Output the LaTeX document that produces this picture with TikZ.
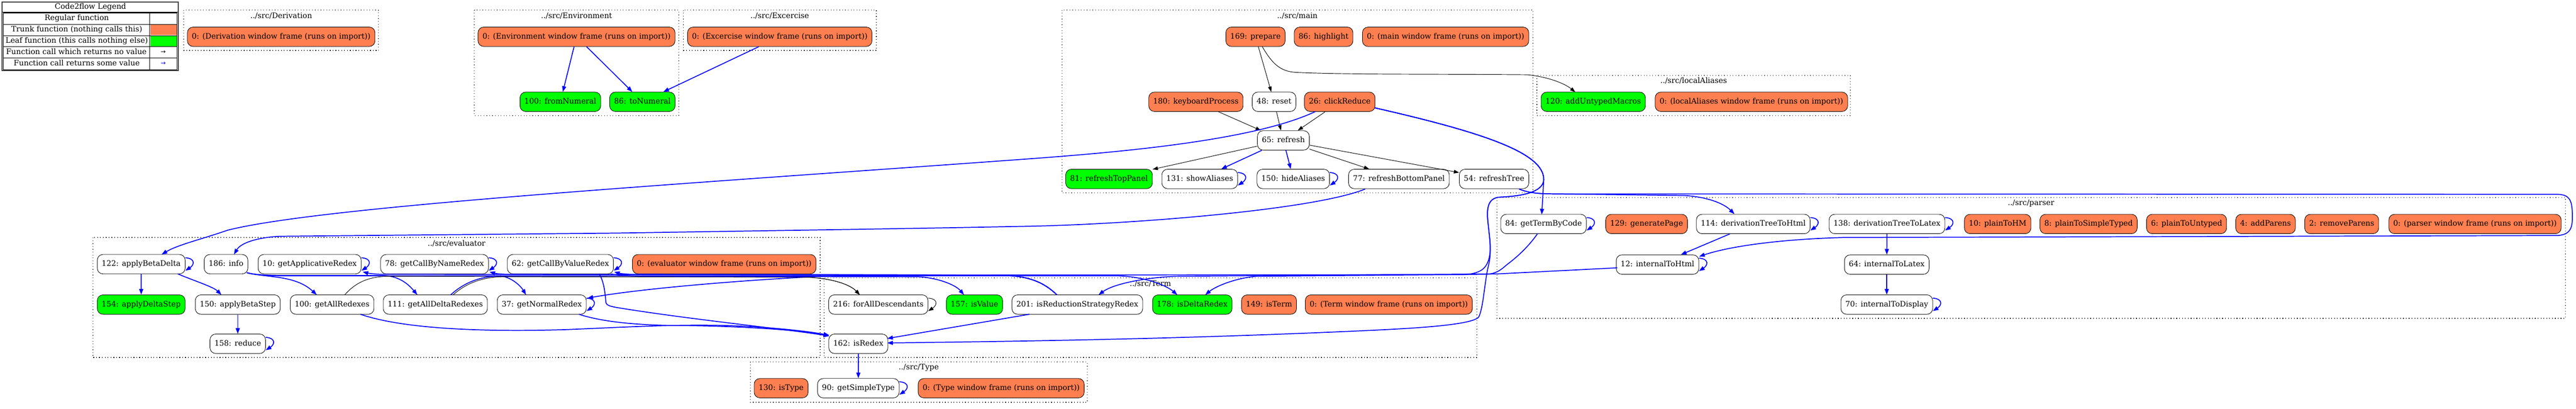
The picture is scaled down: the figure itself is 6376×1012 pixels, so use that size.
\documentclass[tikz,border=0pt]{standalone}
\usepackage{fontspec}
\setmainfont{DejaVu Serif}
\newfontfamily\arrowfamily{DejaVu Sans}
\usetikzlibrary{arrows.meta,calc}
\definecolor{trunk}{HTML}{FF7F50}
\definecolor{leaf}{HTML}{00FF00}
\newcommand{\nf}{\fontsize{18.67}{22}\selectfont}
\newcommand{\myloop}[2][bedge]{\draw[#1] ($(#2.east)+(0,-16)$) .. controls +(26,2) and +(22,-14) .. ($(#2.east)+(0,16)$);}
\begin{document}
\begin{tikzpicture}[x=1pt,y=-1pt,
 fn/.style={draw=black, line width=1.1pt, rounded corners=14pt, minimum height=48pt, inner xsep=11pt, inner ysep=0pt, font=\nf, text height=14pt, text depth=4pt, fill=white},
 trunkfn/.style={fn, fill=trunk},
 leaffn/.style={fn, fill=leaf},
 cluster/.style={draw=black, line width=1.6pt, dash pattern=on 1.6pt off 5.5pt},
 clabel/.style={font=\nf, inner sep=0pt, text height=14pt, text depth=4pt},
 bedge/.style={draw=blue, line width=2.2pt, -{Triangle[length=14pt,width=10pt]}},
 kedge/.style={draw=black, line width=1.2pt, -{Triangle[length=13pt,width=9pt]}},
 legtext/.style={font=\nf, inner sep=0pt, text height=13.5pt, text depth=4pt}
]
\fill[white] (0,0) rectangle (6376,1012);
\useasboundingbox (0,0) rectangle (6376,1012);

% ---------- clusters ----------
\draw[cluster] (455,25) rectangle (937,125);
\draw[cluster] (1174,25) rectangle (1680,286);
\draw[cluster] (1692,25) rectangle (2169,125);
\draw[cluster] (2629,25) rectangle (3794,478);
\draw[cluster] (3804,187) rectangle (4580,286);
\draw[cluster] (3705,489) rectangle (6350,788);
\draw[cluster] (230,588) rectangle (2030,885);
\draw[cluster] (2040,688) rectangle (3655,885);
\draw[cluster] (1857,896) rectangle (2691,996);

\node[clabel] (lblDer) at (696,40) {../src/Derivation};
\node[clabel] (lblEnv) at (1427,40) {../src/Environment};
\node[clabel] (lblExc) at (1930,40) {../src/Excercise};
\node[clabel] (lblMain) at (3211,40) {../src/main};
\node[clabel] (lblLA) at (4192,201) {../src/localAliases};
\node[clabel] (lblParser) at (5027,503) {../src/parser};
\node[clabel] (lblEval) at (1130,604) {../src/evaluator};
\node[clabel] (lblTerm) at (2847.5,704) {../src/Term};
\node[clabel] (lblType) at (2274,910) {../src/Type};

% ---------- legend ----------
\fill[trunk] (372,61) rectangle (438,87);
\fill[leaf] (372,89) rectangle (438,115);
\draw[line width=2.2pt, black!75] (5,5) rectangle (441,175);
\draw[line width=2.4pt] (5,30) -- (441,30);
\draw[line width=1.6pt] (8,32) rectangle (438.5,172.5);
\foreach \yy in {60,88,116,144} \draw[line width=1.3pt] (8,\yy) -- (438.5,\yy);
\draw[line width=1.3pt] (371,32) -- (371,172.5);
\node[legtext] (lgtitle) at (224,17) {Code2flow Legend};
\node[legtext] (lg1) at (190,46) {Regular function};
\node[legtext] (lg2) at (190,74) {Trunk function (nothing calls this)};
\node[legtext] (lg3) at (190,102) {Leaf function (this calls nothing else)};
\node[legtext] (lg4) at (189,130) {Function call which returns no value};
\node[legtext] (lg5) at (190,158) {Function call returns some value};
\node[font=\arrowfamily\fontsize{15}{18}\selectfont, inner sep=0pt] (lgar1) at (404,129) {→};
\node[font=\arrowfamily\fontsize{15}{18}\selectfont, inner sep=0pt, text=blue] (lgar2) at (404,157) {→};

% ---------- nodes ----------
\node[trunkfn] (der) at (696,91) {0: (Derivation window frame (runs on import))};
\node[trunkfn] (envf) at (1427,91) {0: (Environment window frame (runs on import))};
\node[trunkfn] (excf) at (1930,91) {0: (Excercise window frame (runs on import))};
\node[trunkfn] (prep) at (3107.5,91) {169: prepare};
\node[trunkfn] (hl) at (3276,91) {86: highlight};
\node[trunkfn] (mainf) at (3578,91) {0: (main window frame (runs on import))};
\node[leaffn] (fromN) at (1387,252) {100: fromNumeral};
\node[leaffn] (toN) at (1590,252) {86: toNumeral};
\node[trunkfn] (kbd) at (2960,252) {180: keyboardProcess};
\node[fn] (reset) at (3153.5,252) {48: reset};
\node[trunkfn] (click) at (3316,252) {26: clickReduce};
\node[leaffn] (addU) at (3943.5,252) {120: addUntypedMacros};
\node[trunkfn] (laf) at (4335,252) {0: (localAliases window frame (runs on import))};
\node[fn] (refresh) at (3176.5,347.5) {65: refresh};
\node[leaffn] (rtp) at (2745,443) {81: refreshTopPanel};
\node[fn] (show) at (2969.5,443) {131: showAliases};
\node[fn] (hide) at (3201,443) {150: hideAliases};
\node[fn] (rbp) at (3462.5,443) {77: refreshBottomPanel};
\node[fn] (rtree) at (3698,443) {54: refreshTree};
\node[fn] (gtbc) at (3820.5,554.5) {84: getTermByCode};
\node[trunkfn] (genp) at (4075.5,554.5) {129: generatePage};
\node[fn] (dth) at (4339.5,554.5) {114: derivationTreeToHtml};
\node[fn] (dtl) at (4670.5,554.5) {138: derivationTreeToLatex};
\node[trunkfn] (p2hm) at (4944.5,554.5) {10: plainToHM};
\node[trunkfn] (p2st) at (5169.5,554.5) {8: plainToSimpleTyped};
\node[trunkfn] (p2u) at (5412,554.5) {6: plainToUntyped};
\node[trunkfn] (addp) at (5607.5,554.5) {4: addParens};
\node[trunkfn] (remp) at (5796,554.5) {2: removeParens};
\node[trunkfn] (parf) at (6126,554.5) {0: (parser window frame (runs on import))};
\node[fn] (i2h) at (4102.5,655) {12: internalToHtml};
\node[fn] (i2l) at (4670,655) {64: internalToLatex};
\node[fn] (i2d) at (4670,754) {70: internalToDisplay};
\node[fn] (abd) at (349.5,654) {122: applyBetaDelta};
\node[fn] (info) at (559.5,654) {186: info};
\node[fn] (gar) at (766.5,654) {10: getApplicativeRedex};
\node[fn] (gcn) at (1075.5,654) {78: getCallByNameRedex};
\node[fn] (gcv) at (1387,654) {62: getCallByValueRedex};
\node[trunkfn] (evf) at (1792.5,654) {0: (evaluator window frame (runs on import))};
\node[leaffn] (ads) at (349.5,754) {154: applyDeltaStep};
\node[fn] (abs) at (588.5,754) {150: applyBetaStep};
\node[fn] (gall) at (822,754) {100: getAllRedexes};
\node[fn] (gadr) at (1077.5,754) {111: getAllDeltaRedexes};
\node[fn] (gnr) at (1341,754) {37: getNormalRedex};
\node[fn] (reduce) at (588.5,851) {158: reduce};
\node[fn] (fad) at (2174,754) {216: forAllDescendants};
\node[leaffn] (isv) at (2412,754) {157: isValue};
\node[fn] (isrs) at (2666.5,754) {201: isReductionStrategyRedex};
\node[leaffn] (isdr) at (2951,754) {178: isDeltaRedex};
\node[trunkfn] (ist) at (3141,754) {149: isTerm};
\node[trunkfn] (termf) at (3437.5,754) {0: (Term window frame (runs on import))};
\node[fn] (isr) at (2124.5,851) {162: isRedex};
\node[trunkfn] (istype) at (1933.5,961) {130: isType};
\node[fn] (gst) at (2124.5,961) {90: getSimpleType};
\node[trunkfn] (typef) at (2478,961) {0: (Type window frame (runs on import))};

% ---------- edges: top ----------
\draw[bedge] (envf) -- (fromN);
\draw[bedge] (envf) -- (toN);
\draw[bedge] (excf) -- (toN);

% ---------- edges: main ----------
\draw[kedge] (prep) -- (reset);
\draw[kedge] ($(prep)+(16.5,24)$) .. controls (3150,160) and (3170,176) .. (3205,179) .. controls (3320,185) and (3550,183) .. (3780,185) .. controls (3830,190) and (3872,206) .. ($(addU)+(-44.5,-24)$);
\draw[kedge] (kbd) -- (refresh);
\draw[kedge] (reset) -- (refresh);
\draw[kedge] (click) -- (refresh);
\draw[kedge] (refresh) -- (rtp);
\draw[kedge] (refresh) -- (rbp);
\draw[kedge] (refresh) -- (rtree);
\draw[bedge] (refresh) -- (show);
\draw[bedge] (refresh) -- (hide);

% clickReduce -> applyBetaDelta
\draw[bedge] ($(click)+(-60,24)$) .. controls (3100,350) and (2750,378) .. (2550,393) .. controls (1700,455) and (800,510) .. (563,570) .. controls (500,592) and (440,606) .. ($(abd)+(50.5,-24)$);
% clickReduce -> getTermByCode
\draw[bedge] ($(click)+(87,15)$) .. controls (3680,330) and (3822,380) .. (3821,445) -- ($(gtbc)+(-4.5,-23.5)$);
% clickReduce -> isRedex
\draw[bedge] ($(click)+(87,15)$) .. controls (3680,330) and (3822,380) .. (3821,445) .. controls (3819,478) and (3760,486) .. (3712,488) .. controls (3686,490) and (3680,510) .. (3682,540) .. controls (3685,580) and (3694,620) .. (3684,658) .. controls (3674,700) and (3672,760) .. (3660,785) .. controls (3640,808) and (3450,815) .. (3346,820) .. controls (3000,835) and (2700,843) .. ($(isr)+(71.5,-2)$);
% clickReduce -> getNormalRedex
\draw[bedge] ($(click)+(87,15)$) .. controls (3680,330) and (3822,380) .. (3821,445) .. controls (3819,478) and (3760,486) .. (3712,488) .. controls (3686,490) and (3680,510) .. (3682,540) .. controls (3685,580) and (3694,615) .. (3684,645) .. controls (3676,668) and (3660,678) .. (3620,680) -- (2110,681) .. controls (1900,688) and (1600,712) .. ($(gnr)+(113,-16)$);
% refreshBottomPanel -> info
\draw[bedge] ($(rbp)+(-83.5,25)$) .. controls (3250,520) and (2800,555) .. (2550,560) .. controls (2300,565) and (2100,568) .. (1973,570) -- (1528,577) -- (690,585) .. controls (640,588) and (597,600) .. ($(info)+(19.5,-24)$);
% refreshTree -> derivationTreeToHtml
\draw[bedge] ($(rtree)+(62,25)$) .. controls (3785,478) and (3810,480) .. (3850,480) -- (4170,484) .. controls (4230,488) and (4268,505) .. ($(dth)+(-46.5,-24.5)$);
% refreshTree -> internalToHtml
\draw[bedge] ($(rtree)+(62,25)$) .. controls (3785,478) and (3810,480) .. (3850,480) -- (6330,481) .. controls (6360,482) and (6366,495) .. (6367,530) .. controls (6368,565) and (6362,580) .. (6332,583) -- (4560,588) .. controls (4420,592) and (4290,607) .. ($(i2h)+(103,-20)$);

% ---------- edges: parser ----------
\draw[bedge] (dth) -- (i2h);
\draw[bedge] (dtl) -- (i2l);
\draw[bedge] (i2l) -- (i2d);
% getTermByCode -> isDeltaRedex
\draw[bedge] ($(gtbc)+(-14.5,23.5)$) .. controls (3780,615) and (3750,640) .. (3730,655) .. controls (3715,668) and (3705,677) .. (3680,679) -- (3110,684) .. controls (3060,688) and (3010,708) .. ($(isdr)+(32,-24)$);
% internalToHtml -> isReductionStrategyRedex
\draw[bedge] ($(i2h)+(-99.5,8)$) -- (3707,678) -- (2910,684) .. controls (2850,686) and (2760,700) .. ($(isrs)+(52.5,-24)$);

% ---------- edges: evaluator / Term ----------
\draw[bedge] (abd) -- (ads);
\draw[bedge] ($(abd)+(90.5,24)$) .. controls (480,695) and (528,710) .. ($(abs)+(-40.5,-24)$);
\draw[bedge] (abs) -- (reduce);
\draw[bedge] ($(info)+(51.5,21)$) .. controls (660,688) and (730,680) .. ($(gall)+(-38,-24)$);
\draw[bedge] ($(info)+(51.5,21)$) .. controls (640,683) and (700,682) .. (760,682) -- (950,682) .. controls (990,684) and (1012,705) .. ($(gadr)+(-44.5,-24)$);
\draw[bedge] ($(info)+(51.5,21)$) .. controls (640,684) and (700,683) .. (760,683) -- (1240,683) .. controls (1270,688) and (1290,710) .. ($(gnr)+(-39,-24)$);
\draw[kedge] ($(gall)+(31,-24)$) .. controls (880,700) and (910,685) .. (960,684) -- (1990,686) .. controls (2060,688) and (2105,705) .. ($(fad)+(-46,-24)$);
\draw[kedge] ($(gadr)+(44,-24)$) .. controls (1155,700) and (1195,686) .. (1245,685) -- (1990,686) .. controls (2060,688) and (2105,705) .. ($(fad)+(-46,-24)$);
\draw[bedge] ($(gadr)+(38,-24)$) .. controls (1148,700) and (1188,684) .. (1238,683) -- (2770,683) .. controls (2830,685) and (2885,705) .. ($(isdr)+(-37,-24)$);
% isReductionStrategyRedex -> strategy finders
\draw[bedge] ($(isrs)+(-50.5,-24)$) .. controls (2580,695) and (2540,682) .. (2470,681) -- (1560,679) .. controls (1540,678) and (1530,676) .. ($(gcv)+(133,19)$);
\draw[bedge] ($(isrs)+(-50.5,-24)$) .. controls (2580,695) and (2540,682) .. (2470,681) -- (1250,679) .. controls (1230,678) and (1222,676) .. ($(gcn)+(136,19)$);
\draw[bedge] ($(isrs)+(-50.5,-24)$) .. controls (2580,695) and (2540,682) .. (2470,681) -- (940,679) .. controls (920,678) and (910,676) .. ($(gar)+(131,19)$);
% getCallByValueRedex -> isValue
\draw[bedge] ($(gcv)+(125,24)$) .. controls (1540,684) and (1600,684) .. (1700,684) -- (2270,685) .. controls (2320,687) and (2365,705) .. ($(isv)+(-26,-24)$);
% -> isRedex
\draw[bedge] ($(gall)+(70,24)$) .. controls (1000,815) and (1200,822) .. (1400,816) .. controls (1550,810) and (1700,800) .. (1850,808) .. controls (1950,814) and (2010,822) .. ($(isr)+(-72,-21)$);
\draw[bedge] ($(gnr)+(92,24)$) .. controls (1500,800) and (1600,806) .. (1700,806) .. controls (1850,808) and (1980,818) .. ($(isr)+(-72,-21)$);
\draw[bedge] ($(gcv)+(96,24)$) .. controls (1497,700) and (1498,735) .. (1500,750) .. controls (1502,756) and (1510,758) .. (1525,761) .. controls (1700,790) and (1950,815) .. ($(isr)+(-72,-19)$);
\draw[bedge] ($(isrs)+(-118.5,24)$) -- ($(isr)+(71.5,-13)$);
\draw[bedge] (isr) -- (gst);

% ---------- self loops ----------
\myloop{show}
\myloop{hide}
\myloop{gtbc}
\myloop{dth}
\myloop{dtl}
\myloop{i2h}
\myloop{i2d}
\myloop{abd}
\myloop{gar}
\myloop{gcn}
\myloop{gcv}
\myloop{gnr}
\myloop{reduce}
\myloop{gst}
\myloop[kedge]{fad}
\end{tikzpicture}
\end{document}
